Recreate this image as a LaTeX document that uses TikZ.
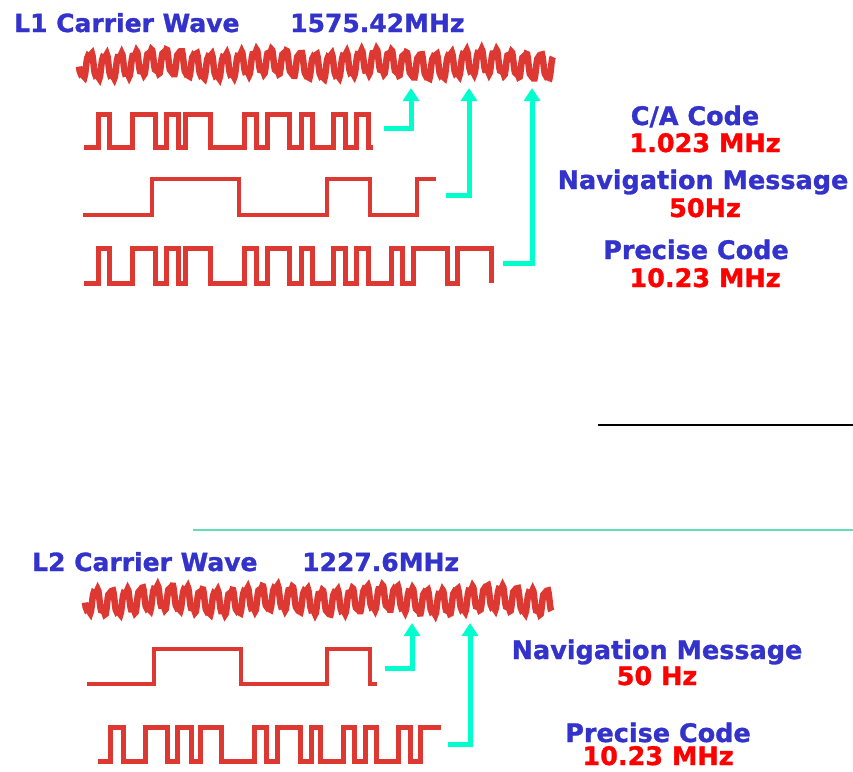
\documentclass[tikz,border=0pt]{standalone}
\usepackage{fontspec}
\newfontfamily\signalfont{DejaVu Sans Bold}[FakeBold=1.2]
\usetikzlibrary{arrows.meta}
\usepackage{xcolor}
\definecolor{WaveRed}{RGB}{222,56,50}
\definecolor{SignalBlue}{RGB}{51,51,204}
\definecolor{RateRed}{RGB}{255,0,0}
\definecolor{FeedCyan}{RGB}{0,255,204}
\definecolor{RuleTeal}{RGB}{100,220,180}
\tikzset{
  carrier/.style={WaveRed, line width=6.5pt, line join=miter},
  chipcode/.style={WaveRed, line width=5pt},
  navcode/.style={WaveRed, line width=4.2pt},
  feed/.style={FeedCyan, line width=5pt, -{Triangle[width=16pt,length=13pt]}},
  wavetitle/.style={anchor=base west, inner sep=0pt, text=SignalBlue,
    font=\signalfont\fontsize{25}{29}\selectfont},
  codename/.style={anchor=base, inner sep=0pt, text=SignalBlue,
    font=\signalfont\fontsize{25.5}{29}\selectfont},
  coderate/.style={anchor=base, inner sep=0pt, text=RateRed,
    font=\signalfont\fontsize{25.5}{29}\selectfont}
}
\begin{document}
\begin{tikzpicture}[x=1pt, y=-1pt]
  \useasboundingbox (0,0) rectangle (853,771);

  % L1 band
  \node[wavetitle] (l1title) at (14,32) {L1 Carrier Wave};
  \node[wavetitle] (l1freq) at (290,32) {1575.42MHz};
  \draw[carrier] plot[domain=0:31.6, samples=700, variable=\t]
    ({79+15*\t}, {64 + 11*sin(360*frac(\t)) + 4*sin(1080*frac(\t)+40) + 2.5*sin(50*\t)});

  % C/A code
  \draw[chipcode] (84,147) -| (98,114) -| (109,147) -| (132,114) -| (155,147)
    -| (166,114) -| (178,147) -| (185,114) -| (210,147) -| (244,114) -| (256,147)
    -| (267,114) -| (289,147) -| (301,114) -| (312,147) -| (333,114) -| (345,147)
    -| (356,114) -| (368,147) -- (373,147);
  % navigation message
  \draw[navcode] (83,215) -| (152,179) -| (239,215) -| (327,179) -| (370,215)
    -| (417,179) -- (436,179);
  % P code
  \draw[chipcode] (84,283) -| (98,248) -| (109,283) -| (132,248) -| (155,283)
    -| (166,248) -| (178,283) -| (185,248) -| (210,283) -| (244,248) -| (256,283)
    -| (267,248) -| (289,283) -| (301,248) -| (312,283) -| (333,248) -| (345,283)
    -| (356,248) -| (368,283) -| (391,248) -| (402,283) -| (413,248) -| (447,283)
    -| (457,248) -| (491,283);

  \coordinate (ca-out) at (384,128);
  \coordinate (ca-in) at (411,88);
  \coordinate (nav1-out) at (446,195);
  \coordinate (nav1-in) at (469,88);
  \coordinate (p1-out) at (503,263);
  \coordinate (p1-in) at (532,88);
  \draw[feed] (ca-out) -| (ca-in);
  \draw[feed] (nav1-out) -| (nav1-in);
  \draw[feed] (p1-out) -| (p1-in);

  \node[codename] (caname) at (695,125) {C/A Code};
  \node[coderate] (carate) at (705,152) {1.023 MHz};
  \node[codename] (nav1name) at (703,189) {Navigation Message};
  \node[coderate] (nav1rate) at (705,217) {50Hz};
  \node[codename] (p1name) at (696,259) {Precise Code};
  \node[coderate] (p1rate) at (705,287) {10.23 MHz};

  % separators
  \draw[black, line width=1.3pt] (598,425) -- (853,425);
  \draw[RuleTeal, line width=1.5pt] (193,530) -- (853,530);

  % L2 band
  \node[wavetitle] (l2title) at (32,571) {L2 Carrier Wave};
  \node[wavetitle] (l2freq) at (302,571) {1227.6MHz};
  \draw[carrier] plot[domain=0:31.1, samples=700, variable=\t]
    ({85+15*\t}, {600 + 11*sin(360*frac(\t)) + 4*sin(1080*frac(\t)+40) + 2.5*sin(50*\t)});

  % navigation message
  \draw[navcode] (87,684) -| (154,649) -| (241,684) -| (327,649) -| (370,684)
    -- (377,684);
  % P code
  \draw[chipcode] (98,761) -| (110,727) -| (123,761) -| (145,727) -| (167,761)
    -| (177,727) -| (191,761) -| (200,727) -| (221,761) -| (254,727) -| (266,761)
    -| (277,727) -| (300,761) -| (311,727) -| (320,761) -| (343,727) -| (354,761)
    -| (365,727) -| (376,761) -| (398,727) -| (410,761) -| (420,727) -- (441,727);

  \coordinate (nav2-out) at (385,668);
  \coordinate (nav2-in) at (412,623);
  \coordinate (p2-out) at (448,744);
  \coordinate (p2-in) at (470,623);
  \draw[feed] (nav2-out) -| (nav2-in);
  \draw[feed] (p2-out) -| (p2-in);

  \node[codename] (nav2name) at (657,659) {Navigation Message};
  \node[coderate] (nav2rate) at (657,685) {50 Hz};
  \node[codename] (p2name) at (658,742) {Precise Code};
  \node[coderate] (p2rate) at (658,765) {10.23 MHz};
\end{tikzpicture}
\end{document}
